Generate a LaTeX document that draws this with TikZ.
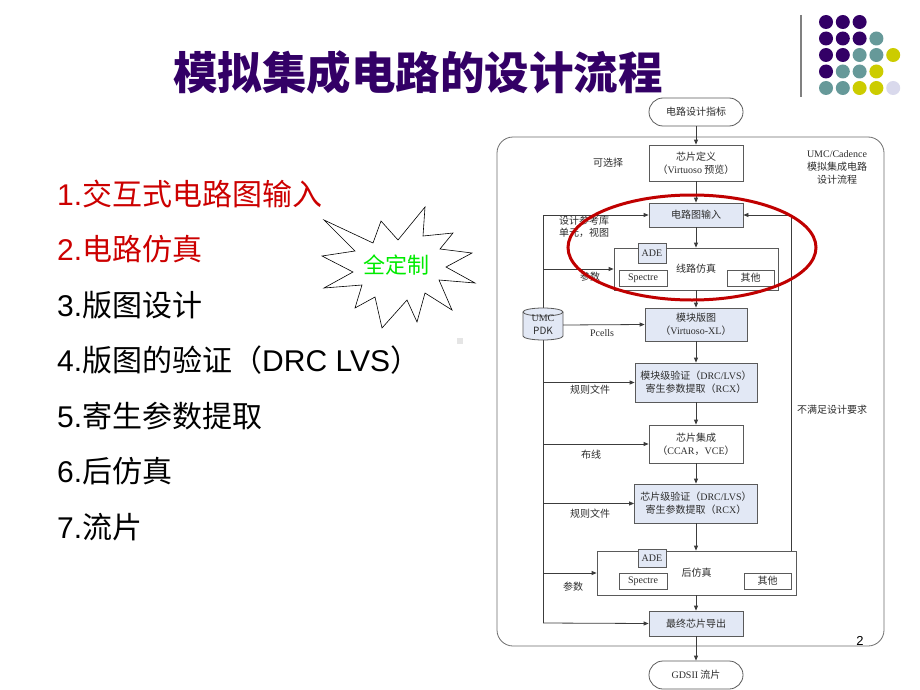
\documentclass[tikz,border=0pt]{standalone}
\usepackage{fontspec}
\setmainfont{Noto Sans CJK SC}
\newfontfamily\tm{Liberation Serif}
\newfontfamily\ar{Liberation Sans}
\usetikzlibrary{arrows.meta}

\definecolor{titlepurple}{RGB}{51,0,102}
\definecolor{listred}{RGB}{204,0,0}
\definecolor{markred}{RGB}{192,0,0}
\definecolor{burstgreen}{RGB}{0,235,0}
\definecolor{boxblue}{RGB}{226,232,245}
\definecolor{boxline}{RGB}{90,90,90}
\definecolor{linegray}{RGB}{60,60,60}
\definecolor{flowtext}{RGB}{45,45,45}
\definecolor{framegray}{RGB}{110,110,110}
\definecolor{dotp}{RGB}{51,0,102}
\definecolor{dott}{RGB}{102,153,153}
\definecolor{doty}{RGB}{204,204,0}
\definecolor{dotl}{RGB}{217,217,236}

\begin{document}
\begin{tikzpicture}[x=1pt, y=-1pt, >={Triangle[length=5pt,width=4pt]},
    fbox/.style={draw=boxline, line width=0.8pt, fill=white, inner sep=0pt,
                 align=center, text=flowtext, font=\fontsize{10}{13}\selectfont},
    fblue/.style={fbox, fill=boxblue},
    fround/.style={fbox, rounded corners=14pt},
    fnote/.style={inner sep=0pt, align=center, text=flowtext, font=\fontsize{10}{13}\selectfont},
    flink/.style={draw=linegray, line width=0.8pt},
    fitem/.style={anchor=west, inner sep=0pt, font=\fontsize{30}{36}\selectfont}]

  \fill[white] (0,0) rectangle (920,690);
  \useasboundingbox (0,0) rectangle (920,690);

  % Title and list
  \node[text=titlepurple, font=\fontsize{44.5}{50}\selectfont\bfseries] (title) at (418,73) {模拟集成电路的设计流程};
  \foreach \n/\txt/\col in {1/交互式电路图输入/listred, 2/电路仿真/listred, 3/版图设计/black,
                            4/{版图的验证（{\ar DRC LVS}）}/black, 5/寄生参数提取/black, 6/后仿真/black, 7/流片/black}
    \node[fitem, text=\col] (item\n) at (57,{194+55.5*(\n-1)}) {{\ar\n.}\txt};

  % Decoration
  \draw[gray, line width=2pt] (801,15) -- (801,97);
  \foreach \i/\j/\c in {0/0/dotp, 1/0/dotp, 2/0/dotp,
                        0/1/dotp, 1/1/dotp, 2/1/dotp, 3/1/dott,
                        0/2/dotp, 1/2/dotp, 2/2/dott, 3/2/dott, 4/2/doty,
                        0/3/dotp, 1/3/dott, 2/3/dott, 3/3/doty,
                        0/4/dott, 1/4/dott, 2/4/doty, 3/4/doty, 4/4/dotl}
    \fill[\c] ({826+16.8*\i},{22+16.5*\j}) circle (7);
  \fill[gray!20] (457,338) rectangle (463,344);

  % Burst
  \draw[black, line width=0.6pt, fill=white] (324,220) -- (373,243) -- (381,221) -- (398,240) -- (425,207)
    -- (423,236) -- (453,233) -- (440,249) -- (472,253) -- (446,267) -- (475,283) -- (439,280)
    -- (452,310) -- (425,293) -- (417,322) -- (407,300) -- (382,328) -- (375,297) -- (355,308)
    -- (362,285) -- (324,288) -- (353,272) -- (322,256) -- (355,251) -- cycle;
  \node[text=burstgreen, font=\fontsize{22}{24}\selectfont] (fullcustom) at (396,265) {全定制};

  % Frame
  \draw[framegray, line width=0.8pt, rounded corners=16pt] (497,137) rectangle (884,646);

  % Bus lines
  \coordinate (bustop) at (543,215);
  \coordinate (busbot) at (543,623);
  \coordinate (fbtop) at (791,215);
  \draw[flink] (bustop) -- (busbot);

  % Flow nodes
  \node[fround, minimum width=94, minimum height=28] (target) at (696,112) {电路设计指标};
  \node[fbox, minimum width=94, minimum height=36] (chipdef) at (696,163) {芯片定义\\（{\tm Virtuoso} 预览）};
  \node[fblue, minimum width=94, minimum height=24] (schem) at (696,215) {电路图输入};
  \node[fbox, minimum width=164, minimum height=42] (presim) at (696,269) {线路仿真};
  \node[fblue, minimum width=28, minimum height=20] (ade1) at (652,253) {\tm ADE};
  \node[fbox, minimum width=48, minimum height=16] (spectre1) at (643,278) {\tm Spectre};
  \node[fbox, minimum width=47, minimum height=16] (other1) at (750.5,278) {其他};
  \node[fblue, minimum width=102, minimum height=33] (layout) at (696,324.5) {模块版图\\（{\tm Virtuoso-XL}）};
  \node[fblue, minimum width=122, minimum height=39] (blkcheck) at (696,382.5) {模块级验证（{\tm DRC/LVS}）\\寄生参数提取（{\tm RCX}）};
  \node[fbox, minimum width=94, minimum height=38] (integ) at (696,444) {芯片集成\\（{\tm CCAR}，{\tm VCE}）};
  \node[fblue, minimum width=123, minimum height=39] (chipcheck) at (696,503.5) {芯片级验证（{\tm DRC/LVS}）\\寄生参数提取（{\tm RCX}）};
  \node[fbox, minimum width=199, minimum height=44] (postsim) at (696.5,573) {后仿真};
  \node[fblue, minimum width=28, minimum height=18] (ade2) at (652,558) {\tm ADE};
  \node[fbox, minimum width=48, minimum height=16] (spectre2) at (643,581) {\tm Spectre};
  \node[fbox, minimum width=47, minimum height=16] (other2) at (767.5,581) {其他};
  \node[fblue, minimum width=94, minimum height=25] (final) at (696,623.5) {最终芯片导出};
  \node[fround, minimum width=94, minimum height=28] (gds) at (696,675) {{\tm GDSII} 流片};

  % PDK cylinder
  \filldraw[fill=boxblue, draw=boxline, line width=0.8pt] (523,312) -- (523,336)
    arc[start angle=180, end angle=0, x radius=20, y radius=4] -- (563,312)
    arc[start angle=0, end angle=-180, x radius=20, y radius=4] -- cycle;
  \draw[boxline, line width=0.8pt] (523,312) arc[start angle=180, end angle=0, x radius=20, y radius=4];
  \node[fnote, minimum width=40, minimum height=32] (pdk) at (543,325) {\tm UMC\\PDK};

  % Notes
  \node[fnote] (optional) at (608,163) {可选择};
  \node[fnote] (flowname) at (837,167) {{\tm UMC/Cadence}\\模拟集成电路\\设计流程};
  \node[fnote, align=left, font=\fontsize{10}{12}\selectfont] (libnote) at (584,227) {设计参考库\\单元，视图};
  \node[fnote] (param1) at (590,277) {参数};
  \node[fnote] (pcells) at (602,333) {\tm Pcells};
  \node[fnote] (rules1) at (590,390) {规则文件};
  \node[fnote] (fail) at (832,410) {不满足设计要求};
  \node[fnote] (route) at (591,455) {布线};
  \node[fnote] (rules2) at (590,514) {规则文件};
  \node[fnote] (param2) at (573,587) {参数};
  \node[font=\fontsize{13}{15}\selectfont] (pagenum) at (860,641) {\ar 2};

  % Main chain
  \foreach \a/\b in {target/chipdef, chipdef/schem, schem/presim, presim/layout, layout/blkcheck,
                     blkcheck/integ, integ/chipcheck, chipcheck/postsim, postsim/final, final/gds}
    \draw[flink, ->] (\a.south -| target) -- (\b.north -| target);

  % Inputs from the left
  \draw[flink, ->] (bustop) -- (schem.west);
  \draw[flink, ->] (bustop |- presim.west) -- (presim.west);
  \draw[flink, ->] (pdk.east) -- (layout.west);
  \draw[flink, ->] (bustop |- blkcheck.west) -- (blkcheck.west);
  \draw[flink, ->] (bustop |- integ.west) -- (integ.west);
  \draw[flink, ->] (bustop |- chipcheck.west) -- (chipcheck.west);
  \draw[flink, ->] (bustop |- postsim.west) -- (postsim.west);
  \draw[flink, ->] (busbot) -- (final.west);

  % Feedback
  \draw[flink, ->] (postsim.north -| fbtop) -- (fbtop) -- (schem.east);

  % Mark
  \draw[markred, line width=3pt] (692,247.5) ellipse [x radius=124, y radius=52.5];
\end{tikzpicture}
\end{document}
